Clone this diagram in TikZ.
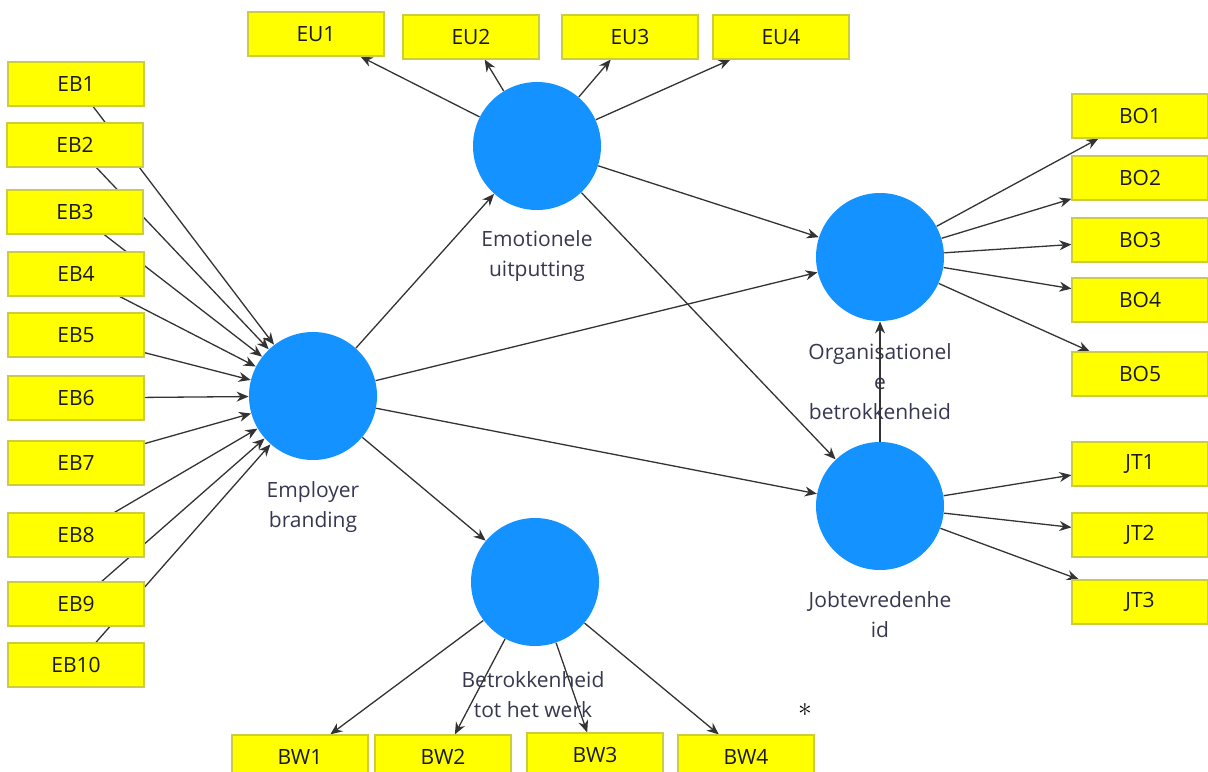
\documentclass[tikz,border=0pt]{standalone}
\usepackage{fontspec}
\newfontfamily\osans{Open Sans}
\usetikzlibrary{arrows.meta}
\pgfdeclarelayer{labels}
\pgfdeclarelayer{edges}
\pgfsetlayers{labels,edges,main}
\definecolor{boxyellow}{RGB}{255,255,0}
\definecolor{boxedge}{RGB}{205,205,60}
\definecolor{circblue}{RGB}{20,146,255}
\definecolor{labtext}{RGB}{55,55,80}
\tikzset{
  ind/.style={rectangle, fill=boxyellow, draw=boxedge, line width=0.6pt,
    minimum width=68pt, minimum height=22pt, inner sep=0pt,
    font=\osans\fontsize{10.5}{12}\selectfont, text=black!90},
  lat/.style={circle, fill=circblue, minimum size=64pt, inner sep=0pt},
  lab/.style={align=center, font=\osans\fontsize{10.5}{15}\selectfont, text=labtext},
  conn/.style={draw=black!80, line width=0.65pt, -{Stealth[length=6pt,width=5pt]}},
}
\begin{document}
\begin{tikzpicture}[x=0.5pt,y=-0.5pt]
\clip (0,0) rectangle (1208,771);
% latent variables
\node[lat] (EB) at (313,396) {};
\node[lat] (EU) at (537,146) {};
\node[lat] (BO) at (880,257) {};
\node[lat] (JT) at (880,506) {};
\node[lat] (BW) at (535,582) {};
% indicators
\node[ind] (eb1) at (76,84) {EB1};
\node[ind] (eb2) at (75,145) {EB2};
\node[ind] (eb3) at (75,212) {EB3};
\node[ind] (eb4) at (76,274) {EB4};
\node[ind] (eb5) at (76,335) {EB5};
\node[ind] (eb6) at (76,398) {EB6};
\node[ind] (eb7) at (76,463) {EB7};
\node[ind] (eb8) at (76,535) {EB8};
\node[ind] (eb9) at (76,604) {EB9};
\node[ind] (eb10) at (76,665) {EB10};
\node[ind] (eu1) at (316,34) {EU1};
\node[ind] (eu2) at (471,37) {EU2};
\node[ind] (eu3) at (630,37) {EU3};
\node[ind] (eu4) at (781,37) {EU4};
\node[ind] (bo1) at (1140,116) {BO1};
\node[ind] (bo2) at (1140,178) {BO2};
\node[ind] (bo3) at (1140,240) {BO3};
\node[ind] (bo4) at (1140,300) {BO4};
\node[ind] (bo5) at (1140,374) {BO5};
\node[ind] (jt1) at (1140,464) {JT1};
\node[ind] (jt2) at (1140,535) {JT2};
\node[ind] (jt3) at (1140,602) {JT3};
\node[ind] (bw1) at (300,757) {BW1};
\node[ind] (bw2) at (443,757) {BW2};
\node[ind] (bw3) at (595,755) {BW3};
\node[ind] (bw4) at (746,757) {BW4};
% labels
\begin{pgfonlayer}{labels}
\node[lab] (lEB) at (313,507) {Employer\\branding};
\node[lab] (lEU) at (537,256) {Emotionele\\uitputting};
\node[lab] (lBO) at (880,382) {Organisationel\\e\\betrokkenheid};
\node[lab] (lJT) at (880,615) {Jobtevredenhe\\id};
\node[lab] (lBW) at (533,695) {Betrokkenheid\\tot het werk};
\end{pgfonlayer}
\node[font=\fontsize{14}{14}\selectfont] (star) at (805,714) {*};
% connectors
\begin{pgfonlayer}{edges}
\foreach \i in {1,...,10} {\draw[conn] (eb\i.center) -- (EB);}
\foreach \i in {1,...,4} {\draw[conn] (EU) -- (eu\i);}
\foreach \i in {1,...,5} {\draw[conn] (BO) -- (bo\i);}
\foreach \i in {1,...,3} {\draw[conn] (JT) -- (jt\i);}
\foreach \i in {1,...,4} {\draw[conn] (BW) -- (bw\i);}
\draw[conn] (EB) -- (EU);
\draw[conn] (EB) -- (BO);
\draw[conn] (EB) -- (JT);
\draw[conn] (EB) -- (BW);
\draw[conn] (EU) -- (BO);
\draw[conn] (EU) -- (JT);
\draw[conn] (JT) -- (BO);
\end{pgfonlayer}
\end{tikzpicture}
\end{document}
